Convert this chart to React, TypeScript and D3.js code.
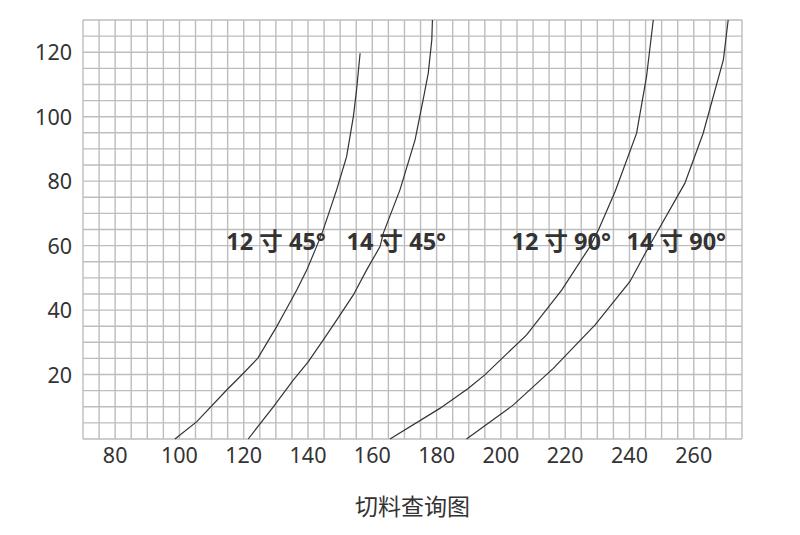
import * as d3 from "d3";
import { useEffect, useRef } from "react";

// axis ticks
const xTicks = [80, 100, 120, 140, 160, 180, 200, 220, 240, 260];
const yTicks = [20, 40, 60, 80, 100, 120];

// curve labels
const seriesNames = ["12 寸 45°", "14 寸 45°", "12 寸 90°", "14 寸 90°"];

// 12 寸 45°
const c12x45X = [98.6, 105.4, 114.7, 119.9, 124.4, 130.2, 132.8, 136.5, 139.6, 142.2, 144.7, 148.9, 152.0, 154.1, 155.1, 156.2];
const c12x45Y = [0, 5.4, 15.2, 20.4, 25.1, 34.8, 39.5, 46.2, 52.4, 58.6, 64.8, 77.3, 87.6, 100, 108.3, 119.7];

// 14 寸 45°
const c14x45X = [121.4, 129.2, 135.4, 140.1, 144.7, 148.9, 154.1, 158.2, 162.4, 163.4, 168.6, 173.3, 175.8, 177.4, 178.5, 178.7];
const c14x45Y = [0, 10.0, 18.3, 24.0, 30.7, 36.9, 44.7, 52.4, 59.7, 63.8, 77.3, 92.8, 105.2, 113.5, 123.8, 130];

// 12 寸 90°
const c12x90X = [165.5, 181.0, 189.8, 195.0, 208.0, 218.9, 227.7, 230.3, 235.5, 242.2, 245.3, 247.4];
const c12x90Y = [0, 9.5, 15.7, 19.9, 32.3, 46.2, 59.7, 64.8, 76.7, 94.8, 112.4, 130];

// 14 寸 90°
const c14x90X = [189.3, 203.8, 216.3, 229.3, 240.1, 246.5, 257.2, 262.9, 269.2, 270.7];
const c14x90Y = [0, 10.5, 21.9, 35.4, 48.8, 60.5, 79.3, 94.8, 117.6, 130];

const title = "切料查询图";

const width = 800;
const height = 535;
const margin = { top: 20, right: 58, bottom: 96, left: 83 };
const ink = "#333333";
const gridColor = "#bdbdbd";
const font = "'Noto Sans', 'Noto Sans CJK SC', sans-serif";

// where the curve labels start (x in data units), and their baseline in px
const labelStart = [114.6, 152.0, 203.3, 239.1];
const labelBaseline = 250;

export default function App() {
  const ref = useRef(null);

  useEffect(() => {
    draw();
  });

  function draw() {
    const svg = d3.select(ref.current);
    svg.selectAll("*").remove();

    const w = width - margin.left - margin.right;
    const h = height - margin.top - margin.bottom;

    const x = d3.scaleLinear().domain([70, 275]).range([margin.left, margin.left + w]);
    const y = d3.scaleLinear().domain([0, 130]).range([margin.top + h, margin.top]);

    svg.append("rect").attr("width", width).attr("height", height).attr("fill", "#fff");

    // grid, every 5 units
    const grid = svg.append("g").attr("stroke", gridColor).attr("stroke-width", 1.4);
    grid
      .selectAll("line.v")
      .data(d3.range(70, 275.1, 5))
      .enter()
      .append("line")
      .attr("x1", (d) => x(d))
      .attr("x2", (d) => x(d))
      .attr("y1", y(0))
      .attr("y2", y(130));
    grid
      .selectAll("line.h")
      .data(d3.range(0, 130.1, 5))
      .enter()
      .append("line")
      .attr("x1", x(70))
      .attr("x2", x(275))
      .attr("y1", (d) => y(d))
      .attr("y2", (d) => y(d));

    // tick labels
    svg
      .append("g")
      .selectAll("text")
      .data(xTicks)
      .enter()
      .append("text")
      .attr("x", (d) => x(d))
      .attr("y", y(0) + 24)
      .attr("text-anchor", "middle")
      .attr("font-family", font)
      .attr("font-size", 21.5)
      .attr("fill", ink)
      .text((d) => d);

    svg
      .append("g")
      .selectAll("text")
      .data(yTicks)
      .enter()
      .append("text")
      .attr("x", margin.left - 11)
      .attr("y", (d) => y(d) + 8)
      .attr("text-anchor", "end")
      .attr("font-family", font)
      .attr("font-size", 21.5)
      .attr("fill", ink)
      .text((d) => d);

    // curves
    const series = [
      d3.zip(c12x45X, c12x45Y),
      d3.zip(c14x45X, c14x45Y),
      d3.zip(c12x90X, c12x90Y),
      d3.zip(c14x90X, c14x90Y),
    ];
    const line = d3
      .line<number[]>()
      .x((d) => x(d[0]))
      .y((d) => y(d[1]));

    svg
      .append("g")
      .selectAll("path")
      .data(series)
      .enter()
      .append("path")
      .attr("d", (d) => line(d))
      .attr("fill", "none")
      .attr("stroke", ink)
      .attr("stroke-width", 1.2);

    // curve labels
    svg
      .append("g")
      .selectAll("text")
      .data(seriesNames)
      .enter()
      .append("text")
      .attr("x", (d, i) => x(labelStart[i]))
      .attr("y", labelBaseline)
      .attr("font-family", font)
      .attr("font-size", 23.5)
      .attr("font-weight", 700)
      .attr("fill", ink)
      .text((d) => d);

    // title
    svg
      .append("text")
      .attr("x", x(70) + w / 2)
      .attr("y", 515)
      .attr("text-anchor", "middle")
      .attr("font-family", "'Noto Sans CJK SC', sans-serif")
      .attr("font-size", 23)
      .attr("fill", ink)
      .text(title);
  }

  return (
    <svg
      ref={ref}
      width={width}
      height={height}
      style={{ position: "absolute", left: 0, top: 0 }}
    ></svg>
  );
}
